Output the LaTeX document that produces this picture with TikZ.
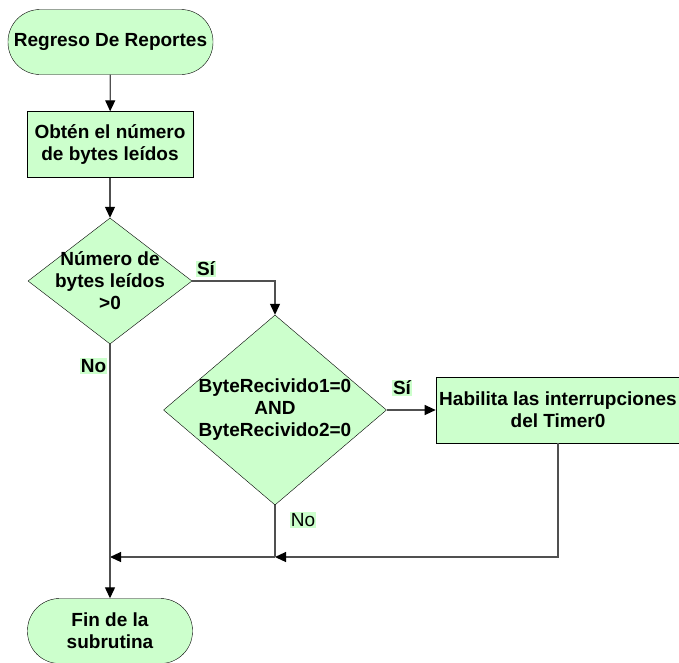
\documentclass[tikz,border=0pt]{standalone}
\usepackage{fontspec}
\setmainfont{Liberation Sans}
\usetikzlibrary{shapes.geometric,arrows.meta}
\definecolor{verde}{RGB}{204,255,204}
\definecolor{gris}{RGB}{80,80,80}
\tikzset{
  terminal/.style={draw, fill=verde, rounded corners=32pt, minimum width=#1,
    minimum height=65pt, align=center, font=\fontsize{19}{22}\selectfont\bfseries},
  proceso/.style={draw, fill=verde, minimum width=#1, minimum height=66pt,
    align=center, font=\fontsize{19}{22}\selectfont\bfseries},
  decision/.style={draw, fill=verde, diamond, inner sep=0pt},
  texto/.style={align=center, font=\fontsize{19}{22}\selectfont\bfseries},
  etiqueta/.style={fill=verde, inner sep=1pt, font=\fontsize{19}{22}\selectfont},
  flecha/.style={draw=gris, line width=1.2pt, -{Triangle[length=11pt,width=10pt,color=black]}},
  linea/.style={draw=gris, line width=1.2pt}
}
\begin{document}
\begin{tikzpicture}[x=1pt,y=-1pt]
\useasboundingbox (0,0) rectangle (679,662);
% bloques
\node[terminal=205pt] (inicio) at (110.5,42) {Regreso De Reportes};
\node[proceso=166pt] (obten) at (110,144.5) {Obtén el número\\de bytes leídos};
\node[decision, minimum width=164pt, minimum height=126pt] (dec1) at (110,281) {};
\node[texto] (txt1) at (dec1) {Número de\\bytes leídos\\>0};
\node[decision, minimum width=223pt, minimum height=190pt] (dec2) at (275,410) {};
\node[texto] (txt2) at (dec2) {ByteRecivido1=0\\AND\\ByteRecivido2=0};
\node[proceso=240pt] (habilita) at (558,410) {Habilita las interrupciones\\del Timer0};
\node[terminal=165pt] (fin) at (110,631) {Fin de la\\subrutina};
\coordinate (j1) at (110,557);
\coordinate (j2) at (275,557);
% conectores
\draw[flecha] (inicio) -- (obten);
\draw[flecha] (obten) -- (dec1);
\draw[flecha] (dec1.east) -| (dec2.north);
\draw[flecha] (dec2.east) -- (habilita.west);
\draw[flecha] (habilita.south) |- (j2);
\draw[linea] (dec2.south) -- (j2);
\draw[flecha] (j2) -- (j1);
\draw[flecha] (dec1.south) -- (fin.north);
% etiquetas
\node[etiqueta, font=\fontsize{19}{22}\selectfont\bfseries] (si1) at (206,269) {Sí};
\node[etiqueta, font=\fontsize{19}{22}\selectfont\bfseries] (no1) at (93.5,366) {No};
\node[etiqueta, font=\fontsize{19}{22}\selectfont\bfseries] (si2) at (402,388) {Sí};
\node[etiqueta] (no2) at (303,520) {No};
\end{tikzpicture}
\end{document}
